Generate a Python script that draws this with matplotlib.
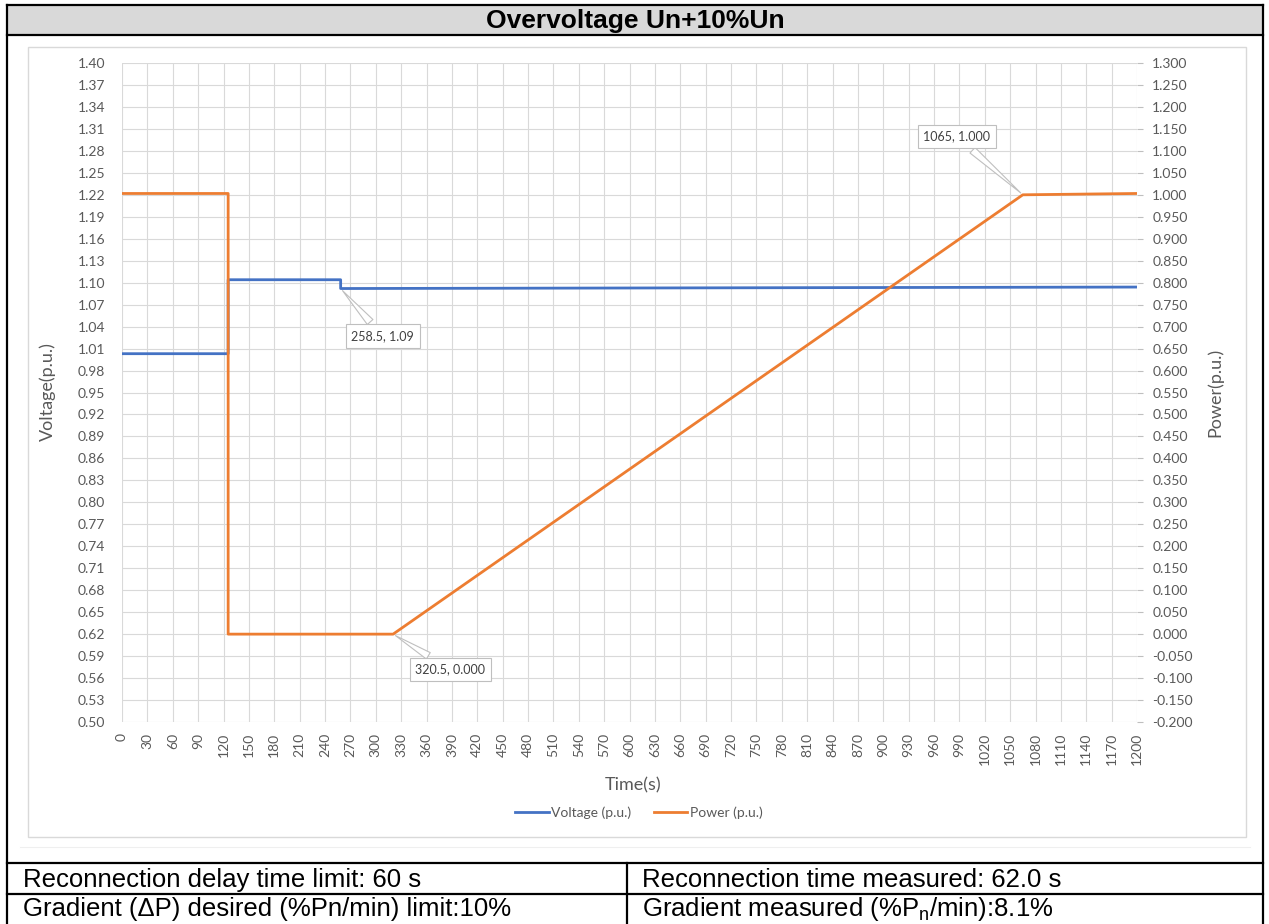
import matplotlib.pyplot as plt
from matplotlib.patches import Rectangle
from matplotlib.lines import Line2D
import numpy as np

# Data (breakpoints of the traces)
volt_time = [0, 125.5, 125.5, 258.5, 258.5, 1200]
volt_pu = [1.003, 1.003, 1.104, 1.104, 1.092, 1.094]
power_time = [0, 125.5, 125.5, 320.5, 1065, 1200]
power_pu = [1.003, 1.003, 0.0, 0.0, 1.000, 1.003]

x_ticks = list(range(0, 1201, 30))
volt_ticks = np.round(np.arange(0.50, 1.401, 0.03), 2)
power_ticks = np.round(np.arange(-0.200, 1.301, 0.05), 3)

title = 'Overvoltage Un+10%Un'
row_texts = [
    ('Reconnection delay time limit: 60 s', 'Reconnection time measured: 62.0 s'),
    ('Gradient (ΔP) desired (%Pn/min) limit:10%',
     r'Gradient measured (%P$_\mathregular{n}$/min):8.1%'),
]

W, H = 1269, 924


def fx(x):
    return x / W


def fy(y):
    return 1 - y / H


GRAY_TXT = '#595959'
GRID = '#d9d9d9'
plt.rcParams['font.family'] = ['Lato', 'DejaVu Sans']

fig = plt.figure(figsize=(W / 100, H / 100), dpi=100)

# table frame and header
fig.add_artist(Rectangle((fx(7), fy(35)), fx(1263) - fx(7), fy(5) - fy(35),
                         transform=fig.transFigure, facecolor='#d9d9d9', edgecolor='none'))
fig.add_artist(Rectangle((fx(28), fy(837)), fx(1246) - fx(28), fy(47) - fy(837),
                         transform=fig.transFigure, facecolor='none', edgecolor=GRID, lw=1))
fig.add_artist(Line2D([fx(20), fx(1250)], [fy(847), fy(847)], color='#efefef', lw=0.8))
for yy in [5, 35, 863, 894]:
    fig.add_artist(Line2D([fx(7), fx(1263)], [fy(yy), fy(yy)], color='black', lw=1.6))
for xx in [7, 1263]:
    fig.add_artist(Line2D([fx(xx), fx(xx)], [fy(5), fy(924)], color='black', lw=1.6))
fig.add_artist(Line2D([fx(627), fx(627)], [fy(863), fy(924)], color='black', lw=1.6))

fig.text(fx(635), fy(21), title, ha='center', va='center', fontsize=19, fontweight='bold',
         family=['Liberation Sans', 'DejaVu Sans'])
for (left, right), base in zip(row_texts, [887, 916]):
    fig.text(fx(23), fy(base), left, ha='left', va='baseline', fontsize=18.5,
             family=['Liberation Sans', 'DejaVu Sans'])
    fig.text(fx(642), fy(base), right, ha='left', va='baseline', fontsize=18.5,
             family=['Liberation Sans', 'DejaVu Sans'])

# chart
ax = fig.add_axes([fx(122), fy(722), (1137 - 122) / W, (722 - 63) / H])
ax.set_xlim(0, 1200)
ax.set_ylim(0.50, 1.40)
ax.set_xticks(x_ticks)
ax.set_xticklabels([str(t) for t in x_ticks], rotation=90)
ax.set_yticks(volt_ticks)
ax.set_yticklabels(['%.2f' % v for v in volt_ticks])
ax.grid(True, color=GRID, lw=0.8)
ax.set_axisbelow(True)
for s in ax.spines.values():
    s.set_visible(False)
ax.tick_params(axis='both', length=0, labelsize=10, labelcolor=GRAY_TXT)
ax.tick_params(axis='y', pad=12)
ax.tick_params(axis='x', pad=8)

l1, = ax.plot(volt_time, volt_pu, color='#4472C4', lw=2.0, label='Voltage (p.u.)')

ax2 = ax.twinx()
ax2.set_ylim(-0.200, 1.300)
ax2.set_yticks(power_ticks)
ax2.set_yticklabels(['%.3f' % (v + 0.0) if abs(v) > 1e-9 else '0.000' for v in power_ticks])
for s in ax2.spines.values():
    s.set_visible(False)
ax2.tick_params(axis='y', length=4, color='#bfbfbf', labelsize=10, labelcolor=GRAY_TXT, pad=7)
l2, = ax2.plot(power_time, power_pu, color='#ED7D31', lw=2.0, label='Power (p.u.)')

box = dict(boxstyle='square,pad=0.45', fc='white', ec='#bfbfbf', lw=0.8)
arrow = dict(arrowstyle='wedge,tail_width=0.6,shrink_factor=0.5', fc='white', ec='#bfbfbf', lw=0.8)
ax.annotate('258.5, 1.09', xy=(258.5, 1.092), xytext=(308, 1.027), ha='center', va='center',
            fontsize=9, color='#404040', bbox=box, arrowprops=arrow)
ax2.annotate('320.5, 0.000', xy=(320.5, 0.0), xytext=(388, -0.08), ha='center', va='center',
             fontsize=9, color='#404040', bbox=box, arrowprops=arrow)
ax2.annotate('1065, 1.000', xy=(1065, 1.0), xytext=(987, 1.133), ha='center', va='center',
             fontsize=9, color='#404040', bbox=box, arrowprops=arrow)

fig.text(fx(633), fy(785), 'Time(s)', ha='center', va='center', fontsize=13, color=GRAY_TXT)
fig.text(fx(48), fy(392), 'Voltage(p.u.)', ha='center', va='center', rotation=90,
         fontsize=13, color=GRAY_TXT)
fig.text(fx(1215), fy(392), 'Power(p.u.)', ha='center', va='center', rotation=90,
         fontsize=13, color=GRAY_TXT)

fig.legend([l1, l2], ['Voltage (p.u.)', 'Power (p.u.)'], loc='center',
           bbox_to_anchor=(fx(639), fy(813)), ncol=2, frameon=False, fontsize=10,
           handlelength=2.4, handletextpad=0.2, columnspacing=1.6, labelcolor=GRAY_TXT)

plt.savefig('out.png', dpi=100)
